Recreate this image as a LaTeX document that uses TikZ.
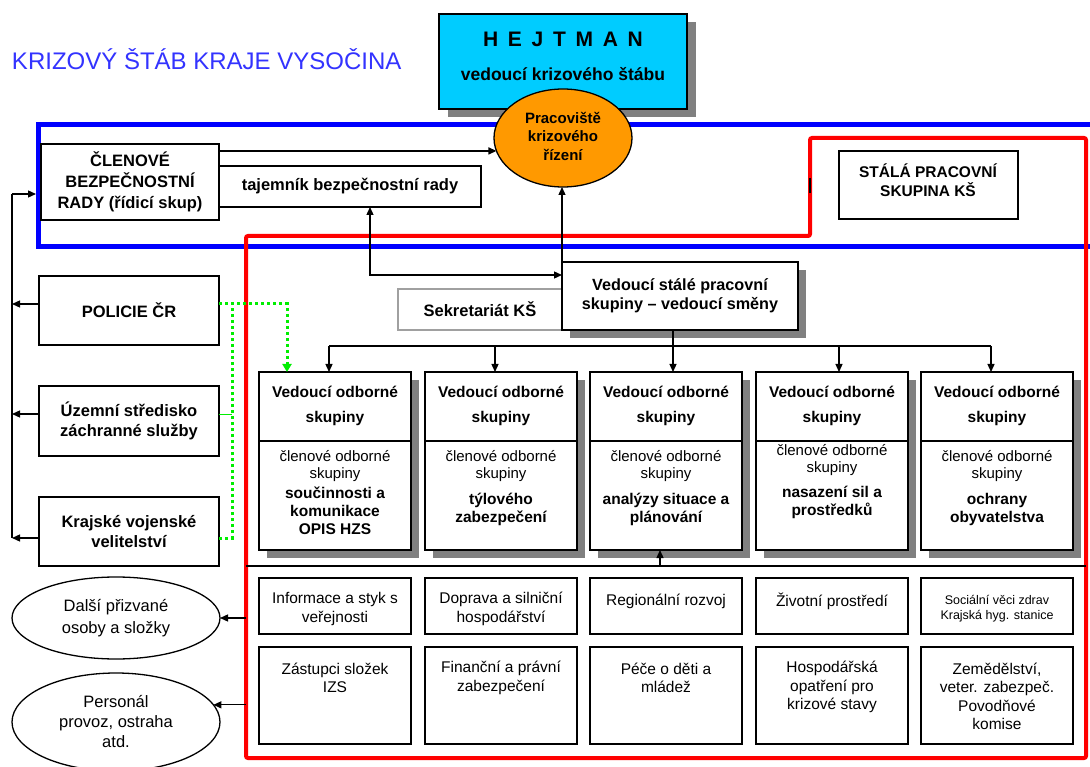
\documentclass[tikz,border=0pt]{standalone}
\usepackage{fontspec}
\setmainfont{Liberation Sans}
\usetikzlibrary{shapes.geometric,shadows,arrows.meta}
\definecolor{hcyan}{HTML}{00CCFF}
\definecolor{orng}{HTML}{FF9900}
\definecolor{ttlblue}{HTML}{3333FF}
\definecolor{shgray}{HTML}{808080}
\definecolor{grn}{HTML}{00EE00}
\definecolor{sekgray}{HTML}{A0A0A0}
\newcommand{\fsz}[2]{\fontsize{#1}{#2}\selectfont}
\newcommand{\hsp}{\hspace{9.7pt}}
\newcommand{\mkbox}[7]{\node[#6, anchor=north west, minimum width={#4-#2}, minimum height={#5-#3}] (#1) at (#2,#3) {#7};}
\begin{document}
\begin{tikzpicture}[x=1pt,y=-1pt,
  every node/.style={inner sep=0pt, outer sep=0pt},
  bx/.style={draw=black, fill=white, line width=1.3pt},
  shd/.style={drop shadow={shadow xshift=8pt, shadow yshift=-8pt, fill=shgray, opacity=1}},
  bt/.style={align=center, font=\bfseries\fsz{16.5}{20}},
  hd/.style={align=center, font=\bfseries\fsz{15.5}{25}},
  mt/.style={align=center, font=\fsz{15}{16.5}},
  bd/.style={align=center, font=\bfseries\fsz{15.5}{18}},
  rt/.style={align=center, font=\fsz{15.5}{18.5}},
  conn/.style={draw=black, line width=1.3pt},
  arr/.style={conn, -{Triangle[length=8pt,width=7pt]}},
  darr/.style={conn, {Triangle[length=8pt,width=7pt]}-{Triangle[length=8pt,width=7pt]}},
  gdot/.style={draw=grn, line width=3pt, dash pattern=on 3pt off 3pt}]
\clip (0,0) rectangle (1090,767);
\fill[white] (0,0) rectangle (1090,767);

% frames
\draw[draw=blue, line width=5pt] (1100,125) -- (38,125) -- (38,247) -- (1100,247);
\draw[draw=red, line width=4pt, rounded corners=2pt] (246,236) -- (810,236) -- (810,138) -- (1086,138) -- (1086,758) -- (246,758) -- cycle;
\draw[line width=1.5pt] (810,178) -- (810,193);

% title
\node[anchor=west, text=ttlblue, font=\fsz{24}{28}] (title) at (12,59) {KRIZOVÝ ŠTÁB KRAJE VYSOČINA};

% hejtman
\mkbox{hejt}{439}{14}{687}{109}{bx, fill=hcyan, drop shadow={shadow xshift=8.5pt, shadow yshift=-8.5pt, fill=shgray, opacity=1}}{}
\node[font=\bfseries\fsz{21}{24}] (hejtA) at (563,39) {H\hsp E\hsp J\hsp T\hsp M\hsp A\hsp N};
\node[font=\bfseries\fsz{17.5}{20}] (hejtB) at (563,74) {vedoucí krizového štábu};

% pracoviste
\node[ellipse, draw=black, fill=orng, line width=1.3pt, minimum width=138, minimum height=98] (prac) at (563,138) {};
\node[align=center, font=\bfseries\fsz{15}{18.5}] (pracT) at (563,136) {Pracoviště\\krizového\\řízení};

% security council
\mkbox{clen}{41}{144}{219}{220}{bx, bt, font=\bfseries\fsz{16.5}{21}}{ČLENOVÉ\\BEZPEČNOSTNÍ\\RADY (řídicí skup)}
\mkbox{taj}{219}{166}{481}{207}{bx, bt}{tajemník bezpečnostní rady}
\mkbox{stala}{839}{151}{1018}{219}{bx}{}
\node[bt, font=\bfseries\fsz{15.5}{19.5}] (stalaT) at (928,180) {STÁLÁ PRACOVNÍ\\SKUPINA KŠ};

% left column
\mkbox{pol}{39}{276}{219}{345}{bx, bt}{POLICIE ČR}
\mkbox{uzs}{39}{386}{219}{456}{bx, bt, font=\bfseries\fsz{16.5}{19.5}}{Územní středisko\\záchranné služby}
\mkbox{kvv}{39}{497}{219}{566}{bx, bt, font=\bfseries\fsz{16.5}{19.5}}{Krajské vojenské\\velitelství}

% secretariat and shift leader
\mkbox{sek}{398}{289}{562}{330}{draw=sekgray, fill=white, line width=1.3pt, bt}{Sekretariát KŠ}
\mkbox{ved}{562}{262}{798}{330}{bx, shd, bt, font=\bfseries\fsz{16.2}{19}}{Vedoucí stálé pracovní\\skupiny – vedoucí směny}

% expert groups
\foreach \i/\x in {1/259,2/425,3/590,4/756,5/921} {
  \mkbox{g\i}{\x}{372}{\x+152}{550}{bx, shd}{}
  \draw[conn] ([yshift=-69pt]g\i.north west) -- ([yshift=-69pt]g\i.north east);
  \mkbox{r\i}{\x}{578}{\x+152}{634}{bx}{}
  \mkbox{s\i}{\x}{647}{\x+152}{744}{bx}{}
}
\node[hd] (g1h) at (335,405.5) {Vedoucí odborné\\skupiny};
\node[hd] (g2h) at (501,405.5) {Vedoucí odborné\\skupiny};
\node[hd] (g3h) at (666,405.5) {Vedoucí odborné\\skupiny};
\node[hd] (g4h) at (832,405.5) {Vedoucí odborné\\skupiny};
\node[hd] (g5h) at (997,405.5) {Vedoucí odborné\\skupiny};
\node[mt] (g1m) at (335,466) {členové odborné\\skupiny};
\node[mt] (g2m) at (501,466) {členové odborné\\skupiny};
\node[mt] (g3m) at (666,466) {členové odborné\\skupiny};
\node[mt] (g4m) at (832,460) {členové odborné\\skupiny};
\node[mt] (g5m) at (997,466) {členové odborné\\skupiny};
\node[bd] (g1b) at (335,511) {součinnosti a\\komunikace\\OPIS HZS};
\node[bd] (g2b) at (501,509) {týlového\\zabezpečení};
\node[bd] (g3b) at (666,509) {analýzy situace a\\plánování};
\node[bd] (g4b) at (832,502.5) {nasazení sil a\\prostředků};
\node[bd] (g5b) at (997,509) {ochrany\\obyvatelstva};

% bottom boxes texts
\node[rt] (r1t) at (335,609) {Informace a styk s\\veřejnosti};
\node[rt] (r2t) at (501,609) {Doprava a silniční\\hospodářství};
\node[rt] (r3t) at (666,601) {Regionální rozvoj};
\node[rt] (r4t) at (832,601) {Životní prostředí};
\node[align=center, font=\fsz{12.5}{15}] (r5t) at (997,608.5) {Sociální věci zdrav\\Krajská hyg. stanice};
\node[rt] (s1t) at (335,678) {Zástupci složek\\IZS};
\node[rt] (s2t) at (501,678) {Finanční a právní\\zabezpečení};
\node[rt] (s3t) at (666,678) {Péče o děti a\\mládež};
\node[rt] (s4t) at (832,687) {Hospodářská\\opatření pro\\krizové stavy};
\node[rt] (s5t) at (997,696.5) {Zemědělství,\\veter. zabezpeč.\\Povodňové\\komise};

% ellipses
\node[ellipse, draw=black, fill=white, line width=1.3pt, minimum width=208, minimum height=82, align=center, font=\fsz{16.5}{22}] (e1) at (116,618) {Další přizvané\\osoby a složky};
\node[ellipse, draw=black, fill=white, line width=1.3pt, minimum width=208, minimum height=98, align=center, font=\fsz{16.5}{20}] (e2) at (116,722) {Personál\\provoz, ostraha\\atd.};

% connectors top
\draw[arr] (clen.east |- prac.191) -- (prac.191);
\draw[darr] ([xshift=20pt]taj.south) |- ([yshift=-13pt]ved.north west);
\draw[arr] (ved.north west) -- (ved.north west |- prac.south);

% left column connectors
\coordinate (lvT) at (12,194);
\coordinate (bluL) at (36,194);
\coordinate (lvB) at (12,538);
\draw[conn] (lvT) -- (lvB);
\draw[arr] (lvT) -- (bluL);
\coordinate (pW) at ([yshift=6.5pt]pol.west);
\coordinate (uW) at ([yshift=7pt]uzs.west);
\coordinate (kW) at ([yshift=-6.5pt]kvv.west);
\draw[arr] (pW) -- (pW -| lvT);
\draw[arr] (uW) -- (uW -| lvT);
\draw[arr] (kW) -- (kW -| lvT);

% green links
\coordinate (pE) at ([yshift=6.5pt]pol.east);
\coordinate (uE) at ([yshift=7pt]uzs.east);
\coordinate (kE) at ([yshift=-6.5pt]kvv.east);
\coordinate (gV) at ([xshift=13pt]pE);
\coordinate (gA) at ([xshift=28pt]g1.north west);
\draw[gdot, -{Triangle[length=8pt,width=9pt]}] (pE) -| (gA);
\draw[gdot] (kE) -| (gV);
\draw[draw=grn, line width=1pt] (uE) -- (uE -| gV);

% distribution bus
\coordinate (a1) at ([xshift=70pt]g1.north west);
\coordinate (a2) at ([xshift=70pt]g2.north west);
\coordinate (a3) at ([xshift=83pt]g3.north west);
\coordinate (a4) at ([xshift=83pt]g4.north west);
\coordinate (a5) at ([xshift=70pt]g5.north west);
\coordinate (busY) at (0,346);
\draw[conn] (a1 |- busY) -- (a5 |- busY);
\foreach \k in {1,2,4,5} {\draw[arr] (a\k |- busY) -- (a\k);}
\draw[arr] (a3 |- ved.south) -- (a3);

% lower line and arrows
\coordinate (redL) at (246,566);
\coordinate (redR) at (1086,566);
\draw[conn] (redL) -- (redR);
\coordinate (b3) at ([xshift=70pt]g3.south west);
\draw[arr] (b3 |- redL) -- (b3);
\draw[arr] (redL |- e1.east) -- (e1.east);
\coordinate (e2a) at (e2.10);
\draw[arr] (redL |- e2a) -- (e2a);
\end{tikzpicture}
\end{document}
